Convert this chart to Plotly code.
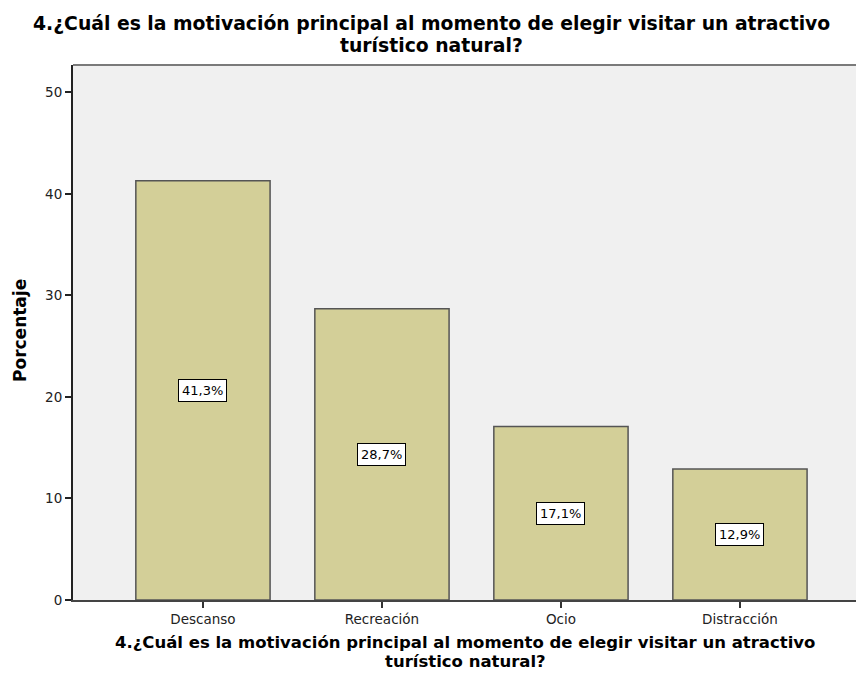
import plotly.graph_objects as go

categories = ["Descanso", "Recreación", "Ocio", "Distracción"]
values = [41.3, 28.7, 17.1, 12.9]
labels = ["41,3%", "28,7%", "17,1%", "12,9%"]
y_ticks = [0, 10, 20, 30, 40, 50]

title_lines = ["4.¿Cuál es la motivación principal al momento de elegir visitar un atractivo",
               "turístico natural?"]

# page geometry (the page body adds an 8px offset)
OFF = 8
PL, PR, PT, PB = 73, 864, 65, 600      # plot box in page pixels
W, H = 864 - OFF, 681 - OFF
plot_w, plot_h = PR - PL, PB - PT


def px(xp):
    return (xp - PL) / plot_w


def py(yp):
    return (PB - yp) / plot_h


fig = go.Figure()
fig.add_trace(go.Bar(
    x=list(range(len(categories))), y=values, width=0.75,
    marker=dict(color="#d3cf98", line=dict(color="#555555", width=1.5)),
    hoverinfo="skip",
))

for i, (v, lab) in enumerate(zip(values, labels)):
    fig.add_annotation(x=i, y=v / 2, text=lab, showarrow=False,
                       font=dict(family="DejaVu Sans", size=13, color="black"),
                       bgcolor="white", bordercolor="black", borderwidth=1, borderpad=3)

ann_common = dict(xref="paper", yref="paper", showarrow=False, xanchor="center", yanchor="middle")
for line, ypix in zip(title_lines, [24, 45]):
    fig.add_annotation(x=px(431), y=py(ypix), text="<b>" + line + "</b>",
                       font=dict(family="DejaVu Sans", size=18.8, color="black"), **ann_common)
for line, ypix in zip(title_lines, [642, 661]):
    fig.add_annotation(x=px(465), y=py(ypix), text="<b>" + line + "</b>",
                       font=dict(family="DejaVu Sans", size=16.5, color="black"), **ann_common)
fig.add_annotation(x=px(20), y=py(331), textangle=-90, text="<b>Porcentaje</b>",
                   font=dict(family="DejaVu Sans", size=17, color="black"), **ann_common)

fig.add_shape(type="line", xref="paper", yref="paper", x0=0, x1=1, y0=1, y1=1,
              line=dict(color="#7a7a7a", width=2))

fig.update_layout(
    width=W, height=H,
    margin=dict(l=PL - OFF, r=0, t=PT - OFF, b=H - (PB - OFF), pad=0),
    paper_bgcolor="white", plot_bgcolor="#f0f0f0",
    showlegend=False,
    font=dict(family="DejaVu Sans", color="#222222"),
    xaxis=dict(
        tickmode="array", tickvals=list(range(len(categories))), ticktext=categories,
        range=[-0.726, 3.693], showgrid=False, zeroline=False, automargin=False,
        showline=True, linecolor="#444444", linewidth=2,
        ticks="outside", ticklen=6, tickcolor="#333333", tickwidth=2,
        tickfont=dict(family="DejaVu Sans", size=13.5, color="#222222"),
    ),
    yaxis=dict(
        range=[0, 52.7], tickvals=y_ticks, showgrid=False, zeroline=False, automargin=False,
        showline=True, linecolor="#222222", linewidth=2,
        ticks="outside", ticklen=6, tickcolor="#222222", tickwidth=2,
        tickfont=dict(family="DejaVu Sans", size=13.5, color="#222222"),
    ),
)

fig.write_html("out.html")
